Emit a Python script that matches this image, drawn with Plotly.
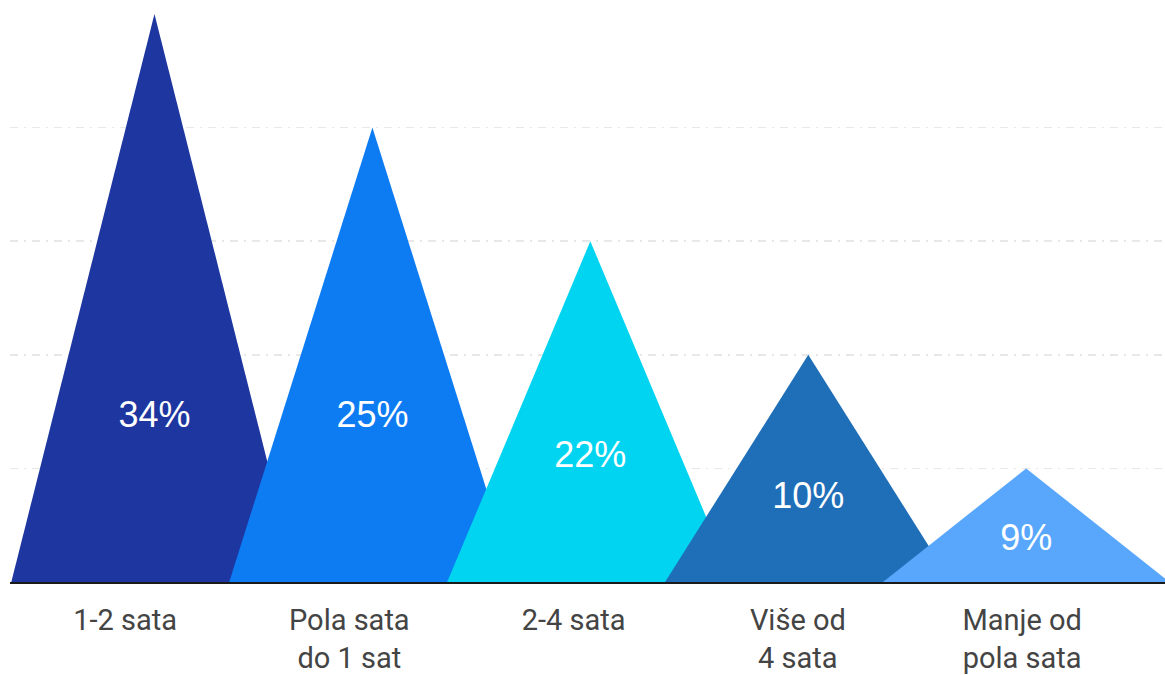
import plotly.graph_objects as go

categories = ["1-2 sata", "Pola sata<br>do 1 sat", "2-4 sata", "Više od<br>4 sata", "Manje od<br>pola sata"]
percent_labels = ["34%", "25%", "22%", "10%", "9%"]
heights = [5, 4, 3, 2, 1]
colors = ["#1E36A0", "#0D7BF2", "#00D4F0", "#1F6EB8", "#58A7FC"]

half_w = 0.657
idx = list(range(len(categories)))

fig = go.Figure()
for i, (h, c) in enumerate(zip(heights, colors)):
    fig.add_trace(go.Scatter(
        x=[i - half_w, i, i + half_w, i - half_w],
        y=[0, h, 0, 0],
        mode="lines", line=dict(width=0, color=c),
        fill="toself", fillcolor=c,
        hoverinfo="skip", showlegend=False,
    ))

label_y = [min(0.365 * h, 1.444) for h in heights]
fig.add_trace(go.Scatter(
    x=idx, y=label_y,
    mode="text", text=percent_labels,
    textfont=dict(family="Liberation Sans, Arial", size=36, color="#ffffff"),
    hoverinfo="skip", showlegend=False,
))

# invisible anchor trace for the category label axis
fig.add_trace(go.Scatter(
    x=idx, y=[0] * len(idx), xaxis="x2",
    mode="markers", marker=dict(opacity=0),
    hoverinfo="skip", showlegend=False,
))

fig.update_layout(
    width=1165, height=675,
    margin=dict(l=10, r=0, t=14, b=90),
    paper_bgcolor="#ffffff", plot_bgcolor="#ffffff",
    showlegend=False,
    xaxis=dict(
        range=[-0.663, 4.637],
        showticklabels=False, ticks="",
        showgrid=False, zeroline=False,
        showline=True, linecolor="#1a1a1a", linewidth=2,
        fixedrange=True,
    ),
    xaxis2=dict(
        overlaying="x", anchor="y", side="bottom",
        range=[-0.513, 4.637],
        tickvals=idx, ticktext=categories,
        tickfont=dict(family="Roboto", size=29, color="#444444"),
        showgrid=False, zeroline=False, showline=False,
        ticks="outside", ticklen=12, tickcolor="rgba(0,0,0,0)",
        fixedrange=True,
    ),
    yaxis=dict(
        range=[0, 5], dtick=1,
        showticklabels=False,
        showgrid=True, gridcolor="#e8e8e8", gridwidth=1.5,
        griddash="8px,6px,2px,6px",
        zeroline=False, fixedrange=True,
    ),
)

post = (
    "var b=document.body; b.style.margin='0px'; b.style.overflow='hidden';"
    "b.style.lineHeight='0'; b.style.fontSize='0';"
    "document.documentElement.style.overflow='hidden';"
    "var d=document.getElementById('{plot_id}'); d.style.display='block';"
    "if(d.parentElement){d.parentElement.style.display='block';d.parentElement.style.height='675px';}"
)

fig.write_html(
    "out.html",
    config={"displayModeBar": False, "staticPlot": True},
    post_script=post,
)
